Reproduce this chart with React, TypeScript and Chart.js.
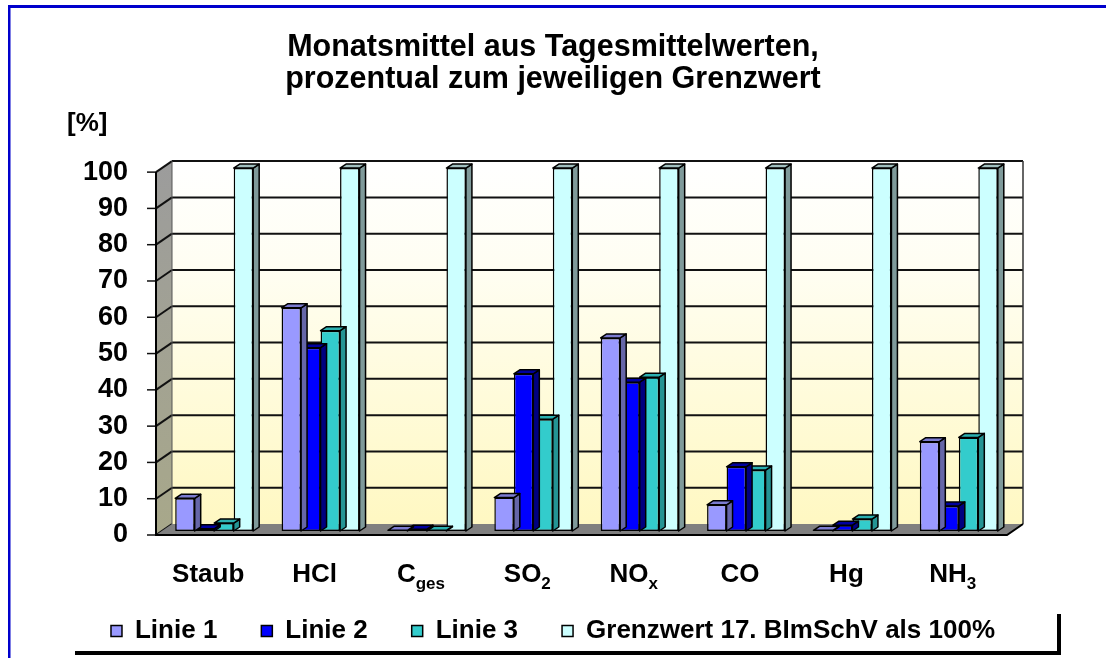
import React, { useEffect, useRef } from 'react';
import { Chart, registerables } from 'chart.js';

Chart.register(...registerables);

// ---------- data ----------
const titleLines = ['Monatsmittel aus Tagesmittelwerten,', 'prozentual zum jeweiligen Grenzwert'];
const yAxisUnit = '[%]';
const categoryMain = ['Staub', 'HCl', 'C', 'SO', 'NO', 'CO', 'Hg', 'NH'];
const categorySub = ['', '', 'ges', '2', 'x', '', '', '3'];
const categories = categoryMain.map((m, i) => m + categorySub[i]);
const yTickValues = [0, 10, 20, 30, 40, 50, 60, 70, 80, 90, 100];

const seriesNames = ['Linie 1', 'Linie 2', 'Linie 3', 'Grenzwert 17. BImSchV als 100%'];
const linie1 = [9, 61.5, 0.2, 9.2, 53.2, 7.2, 0.2, 24.6];
const linie2 = [0.6, 50.5, 0.5, 43.3, 41, 17.7, 1.6, 6.9];
const linie3 = [2.2, 55.2, 0.2, 30.8, 42.4, 16.8, 3.3, 25.8];
const grenzwert = [100, 100, 100, 100, 100, 100, 100, 100];

// ---------- styles ----------
const frontColors = ['#9999FF', '#0000FF', '#33CCCC', '#CCFFFF'];
const sideColors = ['#6666A8', '#000080', '#249494', '#7F9A9A'];
const topColors = ['#7B7BD0', '#00009E', '#2BB0B0', '#A2BFBF'];

const FONT = "'Liberation Sans', Arial, Helvetica, sans-serif";
const FRONT = { dx: -5, dy: 4 };
const BACK = { dx: 11, dy: -7 };
const BAR_DEPTH = { dx: 6, dy: -4 };

const scene3d = {
  id: 'scene3d',
  beforeDatasetsDraw(chart: any) {
    const { ctx, chartArea: a } = chart;
    const y = chart.scales.y;
    const yb = (v: number) => y.getPixelForValue(v) + BACK.dy;
    const yf = (v: number) => y.getPixelForValue(v) + FRONT.dy;
    const xbL = a.left + BACK.dx;
    const xbR = a.right + BACK.dx;
    const xfL = a.left + FRONT.dx;
    const xfR = a.right + FRONT.dx;
    const top = y.max;
    const ticks = y.ticks.map((t: any) => t.value);

    ctx.save();
    // back wall
    const g = ctx.createLinearGradient(0, yb(top), 0, yb(0));
    g.addColorStop(0, '#FFFFFF');
    g.addColorStop(0.3, '#FFFEF2');
    g.addColorStop(1, '#FFF8C2');
    ctx.fillStyle = g;
    ctx.fillRect(xbL, yb(top), xbR - xbL, yb(0) - yb(top));

    // left wall
    const lg = ctx.createLinearGradient(0, yb(top), 0, yf(0));
    lg.addColorStop(0, '#9C9C9C');
    lg.addColorStop(1, '#A8A88A');
    ctx.fillStyle = lg;
    ctx.beginPath();
    ctx.moveTo(xfL, yf(top));
    ctx.lineTo(xbL, yb(top));
    ctx.lineTo(xbL, yb(0));
    ctx.lineTo(xfL, yf(0));
    ctx.closePath();
    ctx.fill();

    // gridlines
    ctx.strokeStyle = '#111';
    ctx.lineWidth = 2;
    ticks.forEach((v: number) => {
      if (v > 0) {
        ctx.beginPath();
        ctx.moveTo(xbL, yb(v));
        ctx.lineTo(xbR, yb(v));
        ctx.stroke();
      }
      ctx.beginPath();
      ctx.moveTo(xfL, yf(v));
      ctx.lineTo(xbL, yb(v));
      ctx.stroke();
      // tick marks
      ctx.lineWidth = 1.5;
      ctx.beginPath();
      ctx.moveTo(xfL - 9, yf(v));
      ctx.lineTo(xfL, yf(v));
      ctx.stroke();
      ctx.lineWidth = 2;
    });

    // back wall right edge + corner line
    ctx.lineWidth = 1.5;
    ctx.strokeStyle = '#333';
    ctx.beginPath();
    ctx.moveTo(xbR, yb(top));
    ctx.lineTo(xbR, yb(0));
    ctx.stroke();
    ctx.lineWidth = 1;
    ctx.strokeStyle = '#555';
    ctx.beginPath();
    ctx.moveTo(xbL, yb(top));
    ctx.lineTo(xbL, yb(0));
    ctx.stroke();

    // floor
    ctx.fillStyle = '#808080';
    ctx.beginPath();
    ctx.moveTo(xfL, yf(0));
    ctx.lineTo(xfR, yf(0));
    ctx.lineTo(xbR, yb(0));
    ctx.lineTo(xbL, yb(0));
    ctx.closePath();
    ctx.fill();
    ctx.strokeStyle = '#000';
    ctx.lineWidth = 2;
    ctx.beginPath();
    ctx.moveTo(xfL, yf(top));
    ctx.lineTo(xfL, yf(0));
    ctx.lineTo(xfR, yf(0));
    ctx.lineTo(xbR, yb(0));
    ctx.stroke();
    ctx.restore();
  },
  beforeDatasetDraw(chart: any, args: any) {
    const { ctx } = chart;
    const i = args.index;
    const meta = args.meta;
    ctx.save();
    ctx.strokeStyle = '#000';
    ctx.lineWidth = 1.5;
    ctx.lineJoin = 'round';
    meta.data.forEach((el: any) => {
      const p = el.getProps(['x', 'y', 'base', 'width'], true);
      const l = p.x - p.width / 2;
      const r = p.x + p.width / 2;
      const t = Math.min(p.y, p.base);
      const b = Math.max(p.y, p.base);
      // side
      ctx.fillStyle = sideColors[i];
      ctx.beginPath();
      ctx.moveTo(r, t);
      ctx.lineTo(r + BAR_DEPTH.dx, t + BAR_DEPTH.dy);
      ctx.lineTo(r + BAR_DEPTH.dx, b + BAR_DEPTH.dy);
      ctx.lineTo(r, b);
      ctx.closePath();
      ctx.fill();
      ctx.stroke();
      // top
      ctx.fillStyle = topColors[i];
      ctx.beginPath();
      ctx.moveTo(l, t);
      ctx.lineTo(l + BAR_DEPTH.dx, t + BAR_DEPTH.dy);
      ctx.lineTo(r + BAR_DEPTH.dx, t + BAR_DEPTH.dy);
      ctx.lineTo(r, t);
      ctx.closePath();
      ctx.fill();
      ctx.stroke();
    });
    ctx.restore();
  },
  afterDraw(chart: any) {
    const { ctx, chartArea: a } = chart;
    const x = chart.scales.x;
    ctx.save();
    // category labels with subscripts
    ctx.fillStyle = '#000';
    ctx.textBaseline = 'alphabetic';
    ctx.textAlign = 'left';
    const mainFont = `bold 26px ${FONT}`;
    const subFont = `bold 17px ${FONT}`;
    const baseY = a.bottom + 51;
    categoryMain.forEach((m, i) => {
      ctx.font = mainFont;
      const mw = ctx.measureText(m).width;
      ctx.font = subFont;
      const sw = categorySub[i] ? ctx.measureText(categorySub[i]).width : 0;
      const cx = x.getPixelForValue(i) + FRONT.dx - 1;
      const sx = cx - (mw + sw) / 2;
      ctx.font = mainFont;
      ctx.fillText(m, sx, baseY);
      if (categorySub[i]) {
        ctx.font = subFont;
        ctx.fillText(categorySub[i], sx + mw, baseY + 7);
      }
    });
    // unit label
    ctx.font = `bold 26px ${FONT}`;
    ctx.fillText(yAxisUnit, 67, 131);

    // legend shadow frame
    ctx.fillStyle = '#000';
    ctx.fillRect(75, 651, 986, 4);
    ctx.fillRect(1057, 614, 4, 41);

    // blue page frame
    ctx.fillStyle = '#0000CC';
    ctx.fillRect(8, 5, 1098, 3);
    ctx.fillRect(8, 5, 2.5, 653);
    ctx.restore();
  },
};

export default function App() {
  const ref = useRef<HTMLCanvasElement>(null);
  useEffect(() => {
    document.body.style.margin = '0';
    const seriesValues = [linie1, linie2, linie3, grenzwert];
    const chart = new Chart(ref.current as HTMLCanvasElement, {
      type: 'bar',
      data: {
        labels: categories,
        datasets: seriesValues.map((vals, i) => ({
          label: seriesNames[i],
          data: vals,
          backgroundColor: frontColors[i],
          borderColor: '#000',
          borderWidth: 1.5,
          borderSkipped: false,
          categoryPercentage: 0.733,
          barPercentage: 1.0,
          clip: false as any,
        })),
      },
      options: {
        responsive: false,
        animation: false,
        events: [],
        layout: { padding: { top: 0, left: 10, right: 10, bottom: 4 } },
        plugins: {
          title: {
            display: true,
            text: titleLines,
            color: '#000',
            font: { family: FONT, size: 30.5, weight: 'bold', lineHeight: 1.02 },
            padding: { top: 32.5, bottom: 73.4 },
          },
          legend: {
            display: true,
            position: 'bottom',
            labels: {
              color: '#000',
              font: { family: FONT, size: 26, weight: 'bold' },
              boxWidth: 11,
              boxHeight: 11,
              padding: 44,
            },
          },
          tooltip: { enabled: false },
        },
        scales: {
          x: {
            type: 'category',
            offset: true,
            grid: { display: false, drawTicks: false },
            border: { display: false },
            ticks: { display: false },
            afterFit: (s: any) => { s.height = 43; },
          },
          y: {
            type: 'linear',
            position: 'left',
            min: 0,
            max: 100,
            grid: { display: false, drawTicks: false, tickLength: 0 },
            border: { display: false },
            afterBuildTicks: (s: any) => { s.ticks = yTickValues.map((v) => ({ value: v })); },
            ticks: {
              autoSkip: false,
              color: '#000',
              padding: 33,
              labelOffset: 4,
              font: { family: FONT, size: 27, weight: 'bold' },
            },
            afterFit: (s: any) => { s.width = 151; },
          },
          y2: {
            type: 'linear',
            position: 'right',
            min: 0,
            max: 100,
            grid: { display: false, drawTicks: false },
            border: { display: false },
            ticks: { display: false },
            afterFit: (s: any) => { s.width = 84; },
          },
        },
      } as any,
      plugins: [scene3d],
    });
    return () => chart.destroy();
  }, []);
  return <canvas ref={ref} width={1106} height={658} style={{ display: 'block' }} />;
}
